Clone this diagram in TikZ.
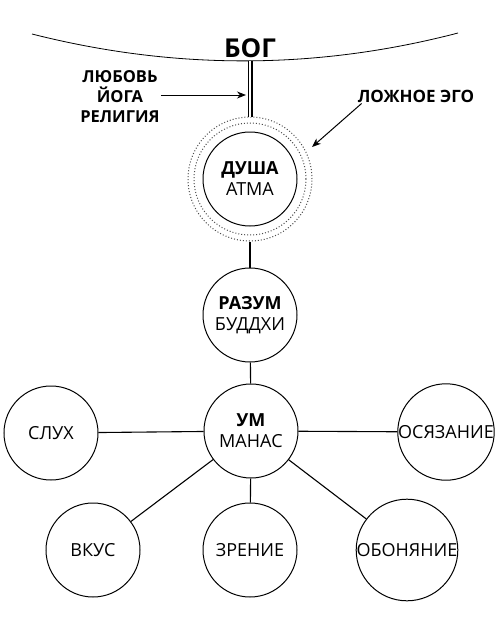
\documentclass[tikz,border=0pt]{standalone}
\usepackage{fontspec}
\setmainfont{Open Sans}
\usetikzlibrary{arrows.meta}

\begin{document}
\begin{tikzpicture}[x=1pt,y=-1pt,
  circ/.style={draw,circle,line width=1pt,minimum size=94pt,inner sep=0pt,align=center,font=\fontsize{18}{21}\selectfont},
  ring/.style={draw=black!70,circle,dotted,line width=1pt,inner sep=0pt},
  lbl/.style={font=\bfseries\fontsize{16.5}{20}\selectfont,align=center,inner sep=1pt},
  arr/.style={-{Stealth[length=9pt,width=7pt]},line width=1pt},
  link/.style={line width=1.1pt}]
\useasboundingbox (0,0) rectangle (500,622);
\draw[line width=0.8pt] (32,34) .. controls (174,70) and (316,70) .. (458,33);
\node[font=\bfseries\fontsize{26}{28}\selectfont] (bog) at (250,48) {БОГ};
\coordinate (top) at (250,61);
\node[ring,minimum size=124pt] (ego) at (250,179) {};
\node[ring,minimum size=112pt] (egoin) at (250,179) {};
\node[circ] (dusha) at (250,179) {\textbf{ДУША}\\АТМА};
\draw[double,line width=1.5pt,double distance=2pt] (top) -- (ego.north);
\node[lbl] (love) at (120,97) {ЛЮБОВЬ\\ЙОГА\\РЕЛИГИЯ};
\coordinate (hit) at (246,95);
\draw[arr] (love.east |- hit) -- (hit);
\node[lbl,font=\bfseries\fontsize{17}{20}\selectfont] (egolbl) at (416,96) {ЛОЖНОЕ ЭГО};
\coordinate (egotip) at (312,147);
\draw[arr] ([xshift=5pt]egolbl.south west) -- (egotip);
\node[circ] (razum) at (250,315) {\textbf{РАЗУМ}\\БУДДХИ};
\node[circ] (um) at (251,431) {\textbf{УМ}\\МАНАС};
\node[circ] (sluh) at (51,433) {СЛУХ};
\node[circ] (osyaz) at (446,432) {ОСЯЗАНИЕ};
\node[circ] (vkus) at (93,550) {ВКУС};
\node[circ] (zrenie) at (250,550) {ЗРЕНИЕ};
\node[circ] (obon) at (407,550) {ОБОНЯНИЕ};
\draw[link] (ego) -- (razum);
\draw[link] (razum) -- (um);
\foreach \n in {sluh,osyaz,vkus,zrenie,obon}
  \draw[link] (um) -- (\n);
\end{tikzpicture}
\end{document}
